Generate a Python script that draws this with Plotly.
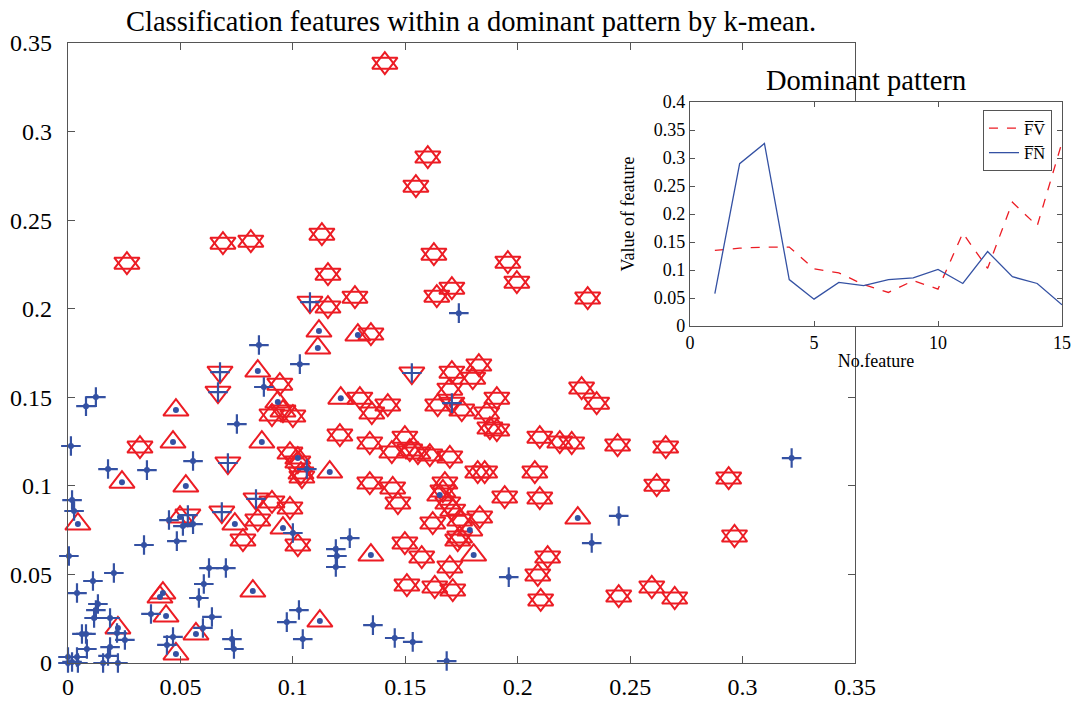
import plotly.graph_objects as go

# ---------------- data ----------------
# star points = up triangle + down triangle (red)
star_x = [0.1409, 0.1600, 0.1547, 0.0262, 0.0689, 0.0813, 0.1129, 0.1156, 0.1627, 0.1956,
          0.1996, 0.1707, 0.1640, 0.2311, 0.1276, 0.1156, 0.1347, 0.1707, 0.1827, 0.1800,
          0.1698, 0.0942, 0.0907, 0.0956, 0.1000, 0.1298, 0.1351, 0.1422, 0.1644, 0.1751,
          0.1907, 0.1862, 0.1876, 0.1907, 0.0320, 0.1209, 0.1342, 0.1440, 0.1498, 0.1520,
          0.1556, 0.1609, 0.1698, 0.2098, 0.2187, 0.2240, 0.2444, 0.2658, 0.2284, 0.2351,
          0.0987, 0.1022, 0.1036, 0.1040, 0.1342, 0.1444, 0.1467, 0.1676, 0.1667, 0.1689,
          0.1711, 0.1822, 0.1853, 0.1942, 0.2076, 0.2098, 0.2618, 0.2938, 0.2964, 0.1622,
          0.1742, 0.1831, 0.1742, 0.1498, 0.1573, 0.1507, 0.1631, 0.1711, 0.1698, 0.1733,
          0.2133, 0.2089, 0.2102, 0.2449, 0.2596, 0.2698, 0.0907, 0.0987, 0.0844, 0.1022,
          0.0778]
star_y = [0.3386, 0.2856, 0.2692, 0.2257, 0.2370, 0.2381, 0.2421, 0.2195, 0.2308, 0.2263,
          0.2150, 0.2116, 0.2071, 0.2060, 0.2065, 0.2009, 0.1857, 0.1642, 0.1682, 0.1608,
          0.1546, 0.1574, 0.1400, 0.1422, 0.1394, 0.1495, 0.1411, 0.1456, 0.1456, 0.1428,
          0.1495, 0.1411, 0.1326, 0.1315, 0.1219, 0.1287, 0.1242, 0.1191, 0.1275, 0.1202,
          0.1185, 0.1174, 0.1163, 0.1275, 0.1247, 0.1242, 0.1230, 0.1219, 0.1552, 0.1467,
          0.1185, 0.1134, 0.1072, 0.1050, 0.1016, 0.0988, 0.0903, 0.1016, 0.0971, 0.0903,
          0.0863, 0.1078, 0.1078, 0.0937, 0.1078, 0.0931, 0.1004, 0.1044, 0.0717, 0.0790,
          0.0807, 0.0824, 0.0711, 0.0677, 0.0598, 0.0440, 0.0429, 0.0412, 0.0542, 0.0694,
          0.0598, 0.0497, 0.0356, 0.0378, 0.0429, 0.0367, 0.0909, 0.0875, 0.0807, 0.0666,
          0.0694]

# up triangle with dot
updot_x = [0.1116, 0.1111, 0.1289, 0.0844, 0.1213, 0.0480, 0.0467, 0.0862, 0.0240, 0.0524,
           0.0044, 0.0742, 0.0498, 0.1164, 0.0956, 0.1347, 0.0822, 0.0409, 0.0422, 0.0436,
           0.0222, 0.0569, 0.0480, 0.1120, 0.1804, 0.1653, 0.2267, 0.1787, 0.0933, 0.1022]
updot_y = [0.1874, 0.1778, 0.1851, 0.1648, 0.1495, 0.1428, 0.1247, 0.1247, 0.1021, 0.0999,
           0.0784, 0.0784, 0.0824, 0.1078, 0.0762, 0.0609, 0.0406, 0.0372, 0.0395, 0.0265,
           0.0198, 0.0164, 0.0051, 0.0237, 0.0609, 0.0948, 0.0818, 0.0751, 0.1473, 0.1157]

# down triangle with plus
downplus_x = [0.1076, 0.0676, 0.0667, 0.1529, 0.0711, 0.0684, 0.0533, 0.0836, 0.1707]
downplus_y = [0.2037, 0.1642, 0.1529, 0.1637, 0.1129, 0.0852, 0.0835, 0.0926, 0.1467]

# plus with dot
plusdot_x = [0.1738, 0.0849, 0.1031, 0.0871, 0.0751, 0.0556, 0.1062, 0.0124, 0.0080, 0.0013,
             0.0178, 0.0351, 0.0018, 0.0027, 0.0338, 0.0004, 0.0449, 0.0511, 0.0556, 0.0484,
             0.0204, 0.0111, 0.0040, 0.0627, 0.0702, 0.0604, 0.0582, 0.0133, 0.0124, 0.0116,
             0.0187, 0.0369, 0.0640, 0.0080, 0.0062, 0.0218, 0.0253, 0.0467, 0.0440, 0.0600,
             0.0729, 0.0738, 0.0187, 0.0084, 0.0178, 0.0156, 0.0222, 0.0000, 0.0040, 0.0018,
             0.0044, 0.0000, 0.0973, 0.1027, 0.1044, 0.1253, 0.1191, 0.1196, 0.1191, 0.1356,
             0.1453, 0.1533, 0.1684, 0.1960, 0.2329, 0.2449, 0.3218, 0.1000]
plusdot_y = [0.1975, 0.1795, 0.1687, 0.1558, 0.1349, 0.1140, 0.1095, 0.1501, 0.1450, 0.1225,
             0.1095, 0.1089, 0.0920, 0.0858, 0.0666, 0.0604, 0.0807, 0.0773, 0.0784, 0.0688,
             0.0508, 0.0463, 0.0395, 0.0536, 0.0536, 0.0446, 0.0367, 0.0333, 0.0299, 0.0254,
             0.0254, 0.0277, 0.0260, 0.0164, 0.0164, 0.0169, 0.0130, 0.0147, 0.0102, 0.0198,
             0.0135, 0.0079, 0.0090, 0.0079, 0.0040, 0.0000, 0.0000, 0.0034, 0.0034, 0.0006,
             0.0000, 0.0000, 0.0231, 0.0299, 0.0135, 0.0705, 0.0643, 0.0604, 0.0542, 0.0214,
             0.0141, 0.0119, 0.0011, 0.0485, 0.0677, 0.0830, 0.1157, 0.0734]

# inset: dominant pattern
feature_no = list(range(1, 16))
fv_values = [0.135, 0.139, 0.141, 0.141, 0.102, 0.095, 0.074, 0.060, 0.081, 0.066,
             0.166, 0.103, 0.221, 0.179, 0.328]
fn_values = [0.058, 0.290, 0.326, 0.083, 0.048, 0.078, 0.072, 0.083, 0.086, 0.101,
             0.076, 0.133, 0.088, 0.076, 0.038]

main_title = "Classification features within a dominant pattern by k-mean."
inset_title = "Dominant pattern"

RED = "#ec1c24"
BLUE = "#3451a3"
FONT = "Liberation Serif, Times New Roman, serif"

fig = go.Figure()

# red markers first
fig.add_trace(go.Scatter(x=star_x + updot_x, y=star_y + updot_y, mode="markers",
                         marker=dict(symbol="triangle-up-open", size=22, color=RED,
                                     line=dict(width=2, color=RED)),
                         cliponaxis=False, showlegend=False, hoverinfo="x+y"))
fig.add_trace(go.Scatter(x=star_x + downplus_x, y=star_y + downplus_y, mode="markers",
                         marker=dict(symbol="triangle-down-open", size=22, color=RED,
                                     line=dict(width=2, color=RED)),
                         cliponaxis=False, showlegend=False, hoverinfo="x+y"))
# blue markers
fig.add_trace(go.Scatter(x=downplus_x + plusdot_x, y=downplus_y + plusdot_y, mode="markers",
                         marker=dict(symbol="cross-thin-open", size=14, color=BLUE,
                                     line=dict(width=2.2, color=BLUE)),
                         cliponaxis=False, showlegend=False, hoverinfo="x+y"))
fig.add_trace(go.Scatter(x=updot_x + plusdot_x, y=updot_y + plusdot_y, mode="markers",
                         marker=dict(symbol="circle", size=6, color=BLUE,
                                     line=dict(width=0)),
                         cliponaxis=False, showlegend=False, hoverinfo="x+y"))

# inset lines
fig.add_trace(go.Scatter(x=feature_no, y=fv_values, mode="lines", xaxis="x2", yaxis="y2",
                         name="F\u0305V\u0305", line=dict(color=RED, width=1.3, dash="dash")))
fig.add_trace(go.Scatter(x=feature_no, y=fn_values, mode="lines", xaxis="x2", yaxis="y2",
                         name="F\u0305N\u0305", line=dict(color=BLUE, width=1.3)))

axis_common = dict(showgrid=False, zeroline=False, showline=True, linecolor="#555555",
                   linewidth=1.3, ticks="inside", tickcolor="#555555", mirror="ticks",
                   automargin=False, ticklabeloverflow="allow")

main_tick = dict(family=FONT, size=24, color="black")
inset_tick = dict(family=FONT, size=18, color="black")

fig.update_layout(
    width=1074, height=701,
    margin=dict(l=68, r=12, t=43, b=38),
    paper_bgcolor="white", plot_bgcolor="white",
    font=dict(family=FONT, color="black"),
    xaxis=dict(domain=[0, 0.7918], range=[0, 0.35], dtick=0.05, tick0=0, ticklen=7,
               tickfont=main_tick, ticklabelstandoff=2, **axis_common),
    yaxis=dict(domain=[0, 1], range=[0, 0.35], dtick=0.05, tick0=0, ticklen=7,
               tickfont=main_tick, ticklabelstandoff=10, **axis_common),
    xaxis2=dict(domain=[0.6258, 1.0], anchor="y2", range=[0, 15], dtick=5, tick0=0, ticklen=5,
                title=dict(text="No.feature", font=dict(family=FONT, size=18), standoff=2),
                tickfont=inset_tick, **axis_common),
    yaxis2=dict(domain=[0.5435, 0.9048], anchor="x2", range=[0, 0.4], dtick=0.05, tick0=0,
                ticklen=5,
                title=dict(text="Value of feature", font=dict(family=FONT, size=18), standoff=14),
                tickfont=inset_tick, **axis_common),
    legend=dict(x=0.9205, y=0.892, xanchor="left", yanchor="top",
                bordercolor="#555555", borderwidth=1, bgcolor="white",
                font=dict(family=FONT, size=16.5), tracegroupgap=0,
                itemwidth=30),
    annotations=[
        dict(text=main_title, x=0.4054, y=1.0339, xref="paper", yref="paper",
             xanchor="center", yanchor="middle", showarrow=False,
             font=dict(family=FONT, size=28.5, color="black")),
        dict(text=inset_title, x=0.8028, y=0.9403, xref="paper", yref="paper",
             xanchor="center", yanchor="middle", showarrow=False,
             font=dict(family=FONT, size=28.5, color="black")),
    ],
)

fig.write_html("out.html")
